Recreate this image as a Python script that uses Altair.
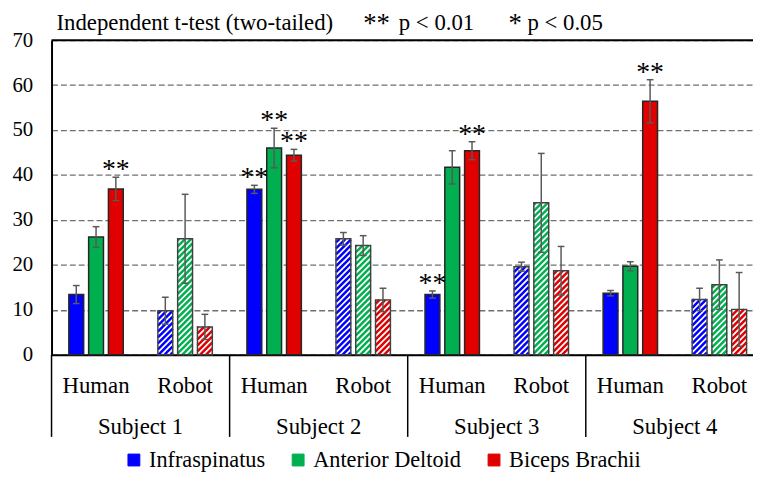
import math
import altair as alt
import pandas as pd

# ---------------- data ----------------
subjects = ["Subject 1", "Subject 2", "Subject 3", "Subject 4"]
conditions = ["Human", "Robot"]
muscles = ["Infraspinatus", "Anterior Deltoid", "Biceps Brachii"]
colors = ["#0000FF", "#00B050", "#E00000"]

human_mean = [[13.4, 26.2, 36.9], [36.8, 46.0, 44.4], [13.4, 41.7, 45.4], [13.7, 19.7, 56.4]]
human_err = [[2.0, 2.3, 2.6], [0.9, 4.4, 1.3], [0.8, 3.7, 2.0], [0.6, 1.0, 4.8]]
robot_mean = [[9.8, 25.8, 6.2], [25.8, 24.3, 12.2], [19.6, 33.8, 18.7], [12.3, 15.6, 10.1]]
robot_err = [[3.0, 9.9, 2.8], [1.4, 2.2, 2.6], [1.0, 11.0, 5.4], [2.5, 5.5, 8.2]]
sig_human = [["", "", "**"], ["**", "**", "**"], ["**", "", "**"], ["", "", "**"]]
sig_robot = [["", "", ""], ["", "", ""], ["", "", ""], ["", "", ""]]

title_pieces = ["Independent t-test (two-tailed)", "**", "p < 0.01", "*", "p < 0.05"]

# ---------------- layout ----------------
W, H = 709, 318
UNIT = 20.0            # px per x unit
XMAX = W / UNIT
PPU = H / 70.0         # px per y unit
FONT = "'Liberation Serif', 'Times New Roman', 'DejaVu Serif', serif"

rows = []
for s, subj in enumerate(subjects):
    for c, cond in enumerate(conditions):
        means = human_mean[s] if c == 0 else robot_mean[s]
        errs = human_err[s] if c == 0 else robot_err[s]
        sigs = sig_human[s] if c == 0 else sig_robot[s]
        for m, mus in enumerate(muscles):
            xc = s * 9 + c * 4.5 + 2.25 + (m - 1)
            rows.append(dict(subject=subj, condition=cond, muscle=mus,
                             mean=means[m], err=errs[m],
                             lo=means[m] - errs[m], hi=means[m] + errs[m],
                             xc=xc, xl=xc - 0.375, xr=xc + 0.375,
                             cl=xc - 0.17, cr=xc + 0.17, base=0.0, sig=sigs[m]))
df = pd.DataFrame(rows)
human = df[df.condition == "Human"]
robot = df[df.condition == "Robot"]
sigdf = df[df.sig != ""]

# hatch stripes for the robot bars ("/" direction, 45 deg)
P = 6.0
srows = []
for _, r in robot.iterrows():
    xl, xr, yt = r.xl * UNIT, r.xr * UNIT, r["mean"] * PPU
    k0 = math.floor((xl - yt) / P) - 1
    k1 = math.ceil(xr / P) + 1
    for k in range(k0, k1 + 1):
        cc = k * P
        y0 = max(0.0, xl - cc)
        y1 = min(yt, xr - cc)
        if y1 - y0 > 0.4:
            srows.append(dict(x=(y0 + cc) / UNIT, x2=(y1 + cc) / UNIT,
                              y=y0 / PPU, y2=y1 / PPU, muscle=r.muscle))
stripes = pd.DataFrame(srows)

sep_df = pd.DataFrame({"x": [s * 9.0 for s in range(len(subjects))]})
cond_df = pd.DataFrame([dict(x=s * 9 + c * 4.5 + 2.25, text=cond)
                        for s in range(len(subjects)) for c, cond in enumerate(conditions)])
subj_df = pd.DataFrame([dict(x=s * 9 + 4.5, text=subj) for s, subj in enumerate(subjects)])
top_df = pd.DataFrame({"y": [70]})

xs = alt.Scale(domain=[0, XMAX], nice=False, zero=False)
ys = alt.Scale(domain=[0, 70], nice=False)
xax = alt.Axis(labels=False, ticks=False, grid=False, title=None, domainColor="black", domainWidth=2)
yax = alt.Axis(values=list(range(0, 71, 10)), title=None, ticks=False, grid=True,
               labelFont=FONT, labelFontSize=21, labelColor="black", labelPadding=19,
               domainColor="black", domainWidth=2,
               gridDash=[6, 3], gridColor="#707070", gridWidth=1.3)
mscale = alt.Scale(domain=muscles, range=colors)

solid = alt.Chart(human).mark_rect(stroke="#262626", strokeWidth=1.5).encode(
    x=alt.X("xl:Q", scale=xs, axis=xax), x2="xr:Q",
    y=alt.Y("mean:Q", scale=ys, axis=yax), y2="base:Q",
    fill=alt.Fill("muscle:N", scale=mscale, legend=alt.Legend(
        title=None, orient="none", legendX=72, legendY=413, direction="horizontal",
        symbolType="square", symbolSize=144, symbolStrokeColor="#262626",
        symbolStrokeWidth=1, labelFont=FONT, labelFontSize=22.5, labelColor="black",
        labelOffset=4, columnPadding=22, labelLimit=400, padding=0)),
)

robot_bg = alt.Chart(robot).mark_rect(fill="white").encode(
    x=alt.X("xl:Q", scale=xs, axis=xax), x2="xr:Q",
    y=alt.Y("mean:Q", scale=ys, axis=yax), y2="base:Q",
)

hatch = alt.Chart(stripes).mark_rule(strokeWidth=2.5, strokeCap="butt").encode(
    x=alt.X("x:Q", scale=xs, axis=xax), x2="x2:Q",
    y=alt.Y("y:Q", scale=ys, axis=yax), y2="y2:Q",
    stroke=alt.Stroke("muscle:N", scale=mscale, legend=None),
)

robot_outline = alt.Chart(robot).mark_rect(fillOpacity=0, stroke="#404040", strokeWidth=1.5).encode(
    x=alt.X("xl:Q", scale=xs, axis=xax), x2="xr:Q",
    y=alt.Y("mean:Q", scale=ys, axis=yax), y2="base:Q",
)

err = alt.Chart(df).mark_rule(color="#595959", strokeWidth=1.5).encode(
    x=alt.X("xc:Q", scale=xs, axis=xax),
    y=alt.Y("lo:Q", scale=ys, axis=yax), y2="hi:Q",
)
cap_hi = alt.Chart(df).mark_rule(color="#595959", strokeWidth=1.5).encode(
    x=alt.X("cl:Q", scale=xs, axis=xax), x2="cr:Q",
    y=alt.Y("hi:Q", scale=ys, axis=yax),
)
cap_lo = alt.Chart(df).mark_rule(color="#595959", strokeWidth=1.5).encode(
    x=alt.X("cl:Q", scale=xs, axis=xax), x2="cr:Q",
    y=alt.Y("lo:Q", scale=ys, axis=yax),
)

stars = alt.Chart(sigdf).mark_text(font=FONT, fontSize=28, baseline="alphabetic", dy=1,
                                   color="black").encode(
    x=alt.X("xc:Q", scale=xs, axis=xax),
    y=alt.Y("hi:Q", scale=ys, axis=yax),
    text="sig:N",
)

top_line = alt.Chart(top_df).mark_rule(color="black", strokeWidth=2).encode(
    y=alt.Y("y:Q", scale=ys, axis=yax), x=alt.value(0), x2=alt.value(W),
)

seps = alt.Chart(sep_df).mark_rule(color="black", strokeWidth=1.5).encode(
    x=alt.X("x:Q", scale=xs, axis=xax), y=alt.value(H), y2=alt.value(H + 83),
)

cond_text = alt.Chart(cond_df).mark_text(font=FONT, fontSize=23, baseline="middle",
                                         color="black").encode(
    x=alt.X("x:Q", scale=xs, axis=xax), y=alt.value(H + 32), text="text:N",
)
subj_text = alt.Chart(subj_df).mark_text(font=FONT, fontSize=23, baseline="middle",
                                         color="black").encode(
    x=alt.X("x:Q", scale=xs, axis=xax), y=alt.value(H + 73), text="text:N",
)

tdf = pd.DataFrame({"t": title_pieces})
def title_piece(i, xpx, ypx, size):
    return alt.Chart(tdf.iloc[[i]]).mark_text(font=FONT, fontSize=size, align="left",
                                               baseline="alphabetic", color="black").encode(
        x=alt.value(xpx), y=alt.value(ypx), text="t:N")

titles = [
    title_piece(0, 5, -10, 23),
    title_piece(1, 315, -8, 27),
    title_piece(2, 351, -10, 23),
    title_piece(3, 462, -8, 27),
    title_piece(4, 481, -10, 23),
]

chart = alt.layer(
    solid, robot_bg, hatch, robot_outline, err, cap_hi, cap_lo, stars, top_line,
    seps, cond_text, subj_text, *titles
).properties(
    width=W, height=H,
    padding={"left": 44, "top": 30, "right": 0, "bottom": 116},
    autosize=alt.AutoSizeParams(type="none"),
).configure_view(stroke=None).configure(background="white")

chart.save("out.html", embed_options={"renderer": "svg", "actions": False})
